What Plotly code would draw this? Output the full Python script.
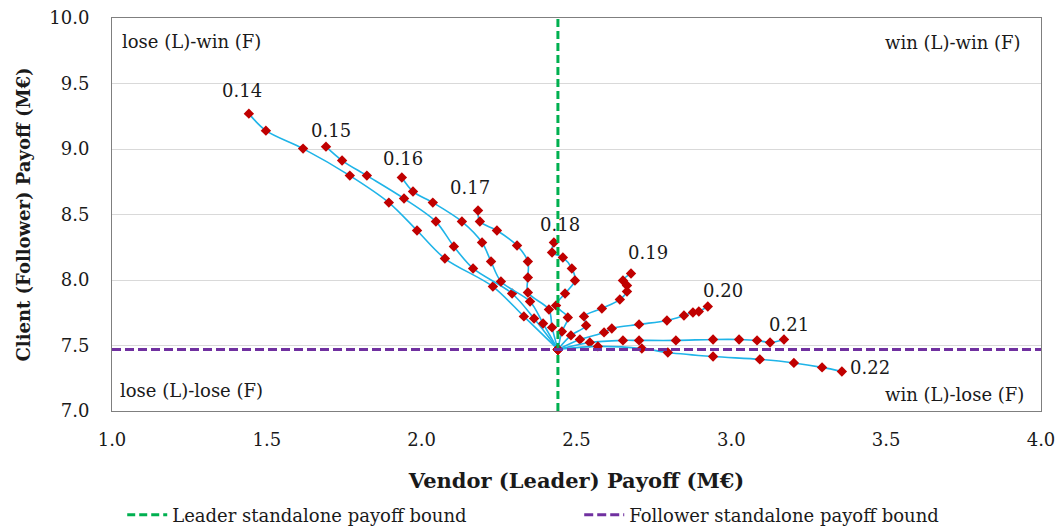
import plotly.graph_objects as go

# Standalone payoff bounds (M€): leader on x, follower on y
leader_bound = 2.44
follower_bound = 7.47

# Payoff paths for each parameter value, listed from the labelled end
# towards the common standalone point
labels = ["0.14", "0.15", "0.16", "0.17", "0.18", "0.19", "0.20", "0.21", "0.22"]

vendor_014 = [1.442, 1.497, 1.617, 1.768, 1.894, 1.985, 2.075, 2.230, 2.330, 2.44]
client_014 = [9.270, 9.140, 9.003, 8.797, 8.591, 8.378, 8.164, 7.950, 7.722, 7.47]

vendor_015 = [1.691, 1.743, 1.823, 1.943, 2.046, 2.104, 2.166, 2.292, 2.363, 2.44]
client_015 = [9.018, 8.912, 8.797, 8.622, 8.446, 8.256, 8.088, 7.897, 7.706, 7.47]

vendor_016 = [1.936, 1.972, 2.036, 2.130, 2.195, 2.224, 2.256, 2.350, 2.392, 2.44]
client_016 = [8.782, 8.675, 8.591, 8.446, 8.286, 8.141, 7.989, 7.836, 7.668, 7.47]

vendor_017 = [2.182, 2.188, 2.243, 2.308, 2.343, 2.343, 2.343, 2.411, 2.421, 2.44]
client_017 = [8.530, 8.446, 8.378, 8.263, 8.141, 8.019, 7.905, 7.775, 7.638, 7.47]

vendor_018 = [2.427, 2.421, 2.456, 2.485, 2.495, 2.463, 2.434, 2.472, 2.453, 2.44]
client_018 = [8.286, 8.210, 8.172, 8.088, 7.996, 7.897, 7.806, 7.714, 7.607, 7.47]

vendor_019 = [2.676, 2.650, 2.663, 2.663, 2.640, 2.582, 2.524, 2.531, 2.482, 2.44]
client_019 = [8.050, 7.996, 7.958, 7.912, 7.851, 7.783, 7.722, 7.653, 7.577, 7.47]

vendor_020 = [2.924, 2.895, 2.876, 2.847, 2.792, 2.702, 2.614, 2.589, 2.511, 2.44]
client_020 = [7.798, 7.760, 7.752, 7.729, 7.691, 7.661, 7.630, 7.600, 7.546, 7.47]

vendor_021 = [3.170, 3.125, 3.083, 3.025, 2.941, 2.821, 2.702, 2.650, 2.543, 2.44]
client_021 = [7.546, 7.523, 7.539, 7.546, 7.546, 7.539, 7.539, 7.539, 7.523, 7.47]

vendor_022 = [3.357, 3.293, 3.202, 3.092, 2.941, 2.795, 2.711, 2.569, 2.44]
client_022 = [7.302, 7.333, 7.367, 7.394, 7.416, 7.447, 7.477, 7.493, 7.47]

vendor_series = [vendor_014, vendor_015, vendor_016, vendor_017, vendor_018,
                 vendor_019, vendor_020, vendor_021, vendor_022]
client_series = [client_014, client_015, client_016, client_017, client_018,
                 client_019, client_020, client_021, client_022]

x_range = [1.0, 4.0]
y_range = [7.0, 10.0]
x_ticks = [1.0, 1.5, 2.0, 2.5, 3.0, 3.5, 4.0]
y_ticks = [7.0, 7.5, 8.0, 8.5, 9.0, 9.5, 10.0]

FONT = "DejaVu Serif"
TEXT = "#1a1a1a"
CURVE = "#1FB4E8"
MARK = "#C00000"

# pixel offsets of each parameter label from its path's end point
label_shift = [(-7, 23), (5, 16), (1, 19), (-8, 23), (6, 18),
               (17, 21), (15, 16), (5, 15), (28, 4)]

fig = go.Figure()

for name, xs, ys in zip(labels, vendor_series, client_series):
    fig.add_trace(go.Scatter(
        x=xs, y=ys, mode="lines+markers", name=name, showlegend=False,
        line=dict(color=CURVE, width=1.6, shape="spline", smoothing=0.9),
        marker=dict(symbol="diamond", size=8, color=MARK),
        hoverinfo="skip",
    ))

fig.add_trace(go.Scatter(
    x=[leader_bound, leader_bound], y=y_range, mode="lines",
    name="Leader standalone payoff bound",
    line=dict(color="#00B050", width=3, dash="8px,4px"),
))
fig.add_trace(go.Scatter(
    x=x_range, y=[follower_bound, follower_bound], mode="lines",
    name="Follower standalone payoff bound",
    line=dict(color="#7030A0", width=3, dash="9px,4px"),
))

annotations = []
for name, xs, ys, (dx, dy) in zip(labels, vendor_series, client_series, label_shift):
    annotations.append(dict(
        x=xs[0], y=ys[0], xref="x", yref="y", text=name, showarrow=False,
        xshift=dx, yshift=dy, font=dict(family=FONT, size=18, color=TEXT),
    ))

quadrants = [
    ("lose (L)-win (F)", 0.009, 0.941, "left"),
    ("win (L)-win (F)", 0.981, 0.938, "right"),
    ("lose (L)-lose (F)", 0.006, 0.053, "left"),
    ("win (L)-lose (F)", 0.984, 0.041, "right"),
]
for text, qx, qy, anchor in quadrants:
    annotations.append(dict(
        x=qx, y=qy, xref="paper", yref="paper", text=text, showarrow=False,
        xanchor=anchor, yanchor="middle",
        font=dict(family=FONT, size=18, color=TEXT),
    ))

fig.update_layout(
    width=1055, height=529,
    margin=dict(l=112, r=14, t=18, b=118, autoexpand=False),
    paper_bgcolor="white", plot_bgcolor="white",
    font=dict(family=FONT, size=18, color=TEXT),
    annotations=annotations,
    legend=dict(
        orientation="h", x=0.011, xanchor="left", y=-0.265, yanchor="middle",
        font=dict(family=FONT, size=18, color=TEXT),
        entrywidth=402, itemwidth=40, tracegroupgap=0,
    ),
)

fig.update_xaxes(
    range=x_range, tickvals=x_ticks, ticktext=[f"{v:.1f}" for v in x_ticks],
    showgrid=False, zeroline=False, showline=True, linecolor="#7F7F7F",
    linewidth=1, mirror=True, ticks="", ticklabelstandoff=12,
    ticklabeloverflow="allow",
    tickfont=dict(family=FONT, size=18, color=TEXT),
    title=dict(text="<b>Vendor (Leader) Payoff (M€)</b>", standoff=24,
               font=dict(family=FONT, size=21, color=TEXT)),
)
fig.update_yaxes(
    range=y_range, tickvals=y_ticks, ticktext=[f"{v:.1f}" for v in y_ticks],
    showgrid=True, gridcolor="#D9D9D9", gridwidth=1, zeroline=False,
    showline=True, linecolor="#7F7F7F", linewidth=1, mirror=True, ticks="",
    ticklabelstandoff=18, ticklabeloverflow="allow",
    tickfont=dict(family=FONT, size=18, color=TEXT),
    title=dict(text="<b>Client (Follower) Payoff (M€)</b>", standoff=14,
               font=dict(family=FONT, size=18, color=TEXT)),
)

fig.write_html("out.html")
